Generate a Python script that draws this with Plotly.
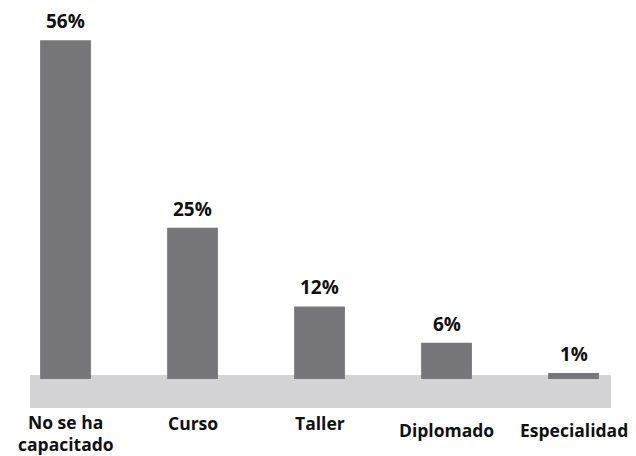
import plotly.graph_objects as go

categories = ["No se ha capacitado", "Curso", "Taller", "Diplomado", "Especialidad"]
tick_labels = ["No se ha<br>capacitado", "Curso", "Taller", "Diplomado", "Especialidad"]
values = [56, 25, 12, 6, 1]
label_offsets = [1, 0, 0, -7, -7]  # vertical shift of category labels (px)

FONT = "Open Sans"
bar_color = "#77777b"
floor_color = "#d3d3d5"

fig = go.Figure()
fig.add_trace(go.Bar(
    x=list(range(len(categories))), y=values,
    marker=dict(color=bar_color, line=dict(width=0)),
    width=0.4, hoverinfo="skip",
))

# floor band
fig.add_shape(type="rect", xref="x", yref="y", x0=-0.28, x1=4.295, y0=-4.8, y1=0.66,
              fillcolor=floor_color, line=dict(width=0), layer="below")

annotations = []
for i, v in enumerate(values):
    annotations.append(dict(x=i, y=v, xref="x", yref="y", text=f"<b>{v}%</b>",
                            showarrow=False, yanchor="bottom", yshift=4,
                            font=dict(family=FONT, size=19, color="#111111")))
for i, lab in enumerate(tick_labels):
    for j, line in enumerate(lab.split("<br>")):
        annotations.append(dict(x=i, y=-5.1, xref="x", yref="y", text=f"<b>{line}</b>",
                                showarrow=False, yanchor="top", borderpad=0,
                                yshift=label_offsets[i] - 22 * j,
                                font=dict(family=FONT, size=17.5, color="#111111")))

fig.update_layout(
    width=628, height=448,
    margin=dict(l=0, r=0, t=0, b=0),
    paper_bgcolor="white", plot_bgcolor="white",
    showlegend=False,
    annotations=annotations,
    xaxis=dict(range=[-0.453, 4.492], visible=False, fixedrange=True),
    yaxis=dict(range=[-12.73, 61.32], visible=False, fixedrange=True),
)

fig.write_html("out.html")
